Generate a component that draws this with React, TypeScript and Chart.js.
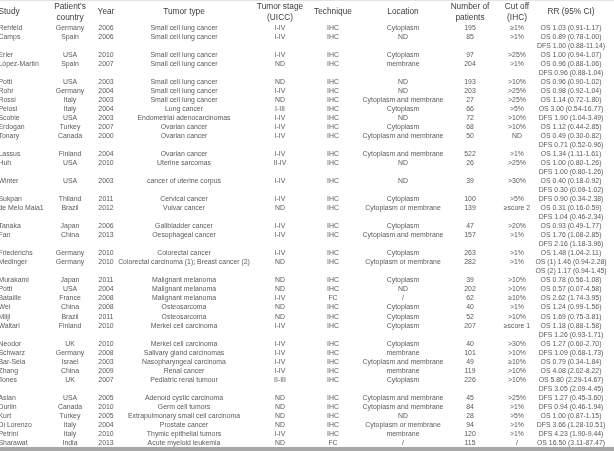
import React, { useEffect, useRef } from "react";
import { Chart, registerables } from "chart.js";

Chart.register(...registerables);

const headers: string[][] = [
  ["Study"],
  ["Patient's", "country"],
  ["Year"],
  ["Tumor type"],
  ["Tumor stage", "(UICC)"],
  ["Technique"],
  ["Location"],
  ["Number of", "patients"],
  ["Cut off", "(IHC)"],
  ["RR (95% CI)"],
];

const studies = ["Rehfeld", "Camps", "Erler", "López-Martin", "Potti", "Rohr", "Rossi", "Pelosi", "Scobie", "Erdogan", "Tonary", "Lassus", "Huh", "Winter", "Sukpan", "de Melo Maia1", "Tanaka", "Fan", "Friederichs", "Medinger", "Murakami", "Potti", "Bataille", "Wei", "Miiji", "Waltari", "Neodor", "Schwarz", "Bar-Sela", "Zhang", "Jones", "Aslan", "Durlin", "Kurt", "Di Lorenzo", "Petrini", "Sharawat"];

const countries = ["Germany", "Spain", "USA", "Spain", "USA", "Germany", "Italy", "Italy", "USA", "Turkey", "Canada", "Finland", "USA", "USA", "Thiland", "Brazil", "Japan", "China", "Germany", "Germany", "Japan", "USA", "France", "China", "Brazil", "Finland", "UK", "Germany", "Israel", "China", "UK", "USA", "Canada", "Turkey", "Italy", "Italy", "India"];

const years = ["2006", "2006", "2010", "2007", "2003", "2004", "2003", "2004", "2003", "2007", "2000", "2004", "2010", "2003", "2011", "2012", "2006", "2013", "2010", "2010", "2011", "2004", "2008", "2008", "2011", "2010", "2010", "2008", "2003", "2009", "2007", "2005", "2010", "2005", "2004", "2010", "2013"];

const tumorTypes = ["Small cell lung cancer", "Small cell lung cancer", "Small cell lung cancer", "Small cell lung cancer", "Small cell lung cancer", "Small cell lung cancer", "Small cell lung cancer", "Lung cancer", "Endometrial adenocarcinomas", "Ovarian cancer", "Ovarian cancer", "Ovarian cancer", "Uterine sarcomas", "cancer of uterine corpus", "Cervical cancer", "Vulvar cancer", "Gallbladder cancer", "Oesophageal cancer", "Colorectal cancer", "Colorectal carcinoma (1); Breast cancer (2)", "Malignant melanoma", "Malignant melanoma", "Malignant melanoma", "Osteosarcoma", "Osteosarcoma", "Merkel cell carcinoma", "Merkel cell carcinoma", "Salivary gland carcinomas", "Nasopharyngeal carcinoma", "Renal cancer", "Pediatric renal tumour", "Adenoid cystic carcinoma", "Germ cell tumors", "Extrapulmonary small cell carcinoma", "Prostate cancer", "Thymic epithelial tumors", "Acute myeloid leukemia"];

const stages = ["I-IV", "I-IV", "I-IV", "ND", "ND", "I-IV", "ND", "I-III", "I-IV", "I-IV", "I-IV", "I-IV", "II-IV", "I-IV", "I-IV", "ND", "I-IV", "I-IV", "I-IV", "ND", "ND", "ND", "I-IV", "ND", "ND", "I-IV", "I-IV", "I-IV", "I-IV", "I-IV", "II-III", "ND", "ND", "ND", "ND", "I-IV", "ND"];

const techniques = ["IHC", "IHC", "IHC", "IHC", "IHC", "IHC", "IHC", "IHC", "IHC", "IHC", "IHC", "IHC", "IHC", "IHC", "IHC", "IHC", "IHC", "IHC", "IHC", "IHC", "IHC", "IHC", "FC", "IHC", "IHC", "IHC", "IHC", "IHC", "IHC", "IHC", "IHC", "IHC", "IHC", "IHC", "IHC", "IHC", "FC"];

const locations = ["Cytoplasm", "ND", "Cytoplasm", "membrane", "ND", "ND", "Cytoplasm and membrane", "Cytoplasm", "ND", "Cytoplasm", "Cytoplasm and membrane", "Cytoplasm and membrane", "ND", "ND", "Cytoplasm", "Cytoplasm or membrane", "Cytoplasm", "Cytoplasm and membrane", "Cytoplasm", "Cytoplasm or membrane", "Cytoplasm", "ND", "/", "Cytoplasm", "Cytoplasm", "Cytoplasm", "Cytoplasm", "membrane", "Cytoplasm and membrane", "membrane", "Cytoplasm", "Cytoplasm and membrane", "Cytoplasm and membrane", "ND", "Cytoplasm or membrane", "membrane", "/"];

const patients = ["195", "85", "97", "204", "193", "203", "27", "66", "72", "68", "50", "522", "26", "39", "100", "139", "47", "157", "263", "282", "39", "202", "62", "40", "52", "207", "40", "101", "49", "119", "226", "45", "84", "28", "94", "120", "115"];

const cutoffs = ["≥1%", ">1%", ">25%", ">1%", ">10%", ">25%", ">25%", ">5%", ">10%", ">10%", "ND", ">1%", ">25%", ">30%", ">5%", "≥score 2", ">20%", ">1%", ">1%", ">1%", ">10%", ">10%", "≥10%", ">1%", ">10%", "≥score 1", ">30%", ">10%", "≥10%", ">10%", ">10%", ">25%", ">1%", ">5%", ">1%", ">1%", "/"];

const rrFirst = ["OS 1.03 (0.91-1.17)", "OS 0.89 (0.78-1.00)", "OS 1.00 (0.94-1.07)", "OS 0.96 (0.88-1.06)", "OS 0.96 (0.90-1.02)", "OS 0.98 (0.92-1.04)", "OS 1.14 (0.72-1.80)", "OS 3.00 (0.54-16.77)", "DFS 1.90 (1.04-3.49)", "OS 1.12 (0.44-2.85)", "OS 0.49 (0.30-0.82)", "OS 1.34 (1.11-1.61)", "OS 1.00 (0.80-1.26)", "OS 0.40 (0.18-0.92)", "DFS 0.90 (0.34-2.38)", "OS 0.31 (0.16-0.59)", "OS 0.93 (0.49-1.77)", "OS 1.76 (1.08-2.85)", "OS 1.48 (1.04-2.11)", "OS (1) 1.46 (0.94-2.28)", "OS 0.78 (0.56-1.08)", "OS 0.57 (0.07-4.58)", "OS 2.62 (1.74-3.95)", "OS 1.24 (0.99-1.56)", "OS 1.69 (0.75-3.81)", "OS 1.18 (0.88-1.58)", "OS 1.27 (0.60-2.70)", "DFS 1.09 (0.68-1.73)", "OS 0.79 (0.34-1.84)", "OS 4.08 (2.02-8.22)", "OS 5.80 (2.29-14.67)", "DFS 1.27 (0.45-3.60)", "DFS 0.94 (0.46-1.94)", "OS 1.00 (0.87-1.15)", "DFS 3.66 (1.28-10.51)", "DFS 4.23 (1.90-9.44)", "OS 16.50 (3.11-87.47)"];

const rrSecond = ["", "DFS 1.00 (0.88-11.14)", "", "DFS 0.96 (0.88-1.04)", "", "", "", "", "", "", "DFS 0.71 (0.52-0.96)", "", "DFS 1.00 (0.80-1.26)", "DFS 0.30 (0.09-1.02)", "", "DFS 1.04 (0.46-2.34)", "", "DFS 2.16 (1.18-3.96)", "", "OS (2) 1.17 (0.94-1.45)", "", "", "", "", "", "DFS 1.26 (0.93-1.71)", "", "", "", "", "DFS 3.05 (2.09-4.45)", "", "", "", "", "", ""];

// ---- layout (positions in scale units) ----
const W = 614;
const H = 451;
const colX = [-1.5, 70, 106, 184, 280, 333, 403, 470, 517, 571];
const colAlign: CanvasTextAlign[] = ["left", "center", "center", "center", "center", "center", "center", "center", "center", "center"];
const Y_MIN = -3.1;
const Y_MAX = 46.9;
const HEADER_TWO = [-2.33, -1.11];
const HEADER_ONE = -1.77;
const BOTTOM_RULE = [46.45, 46.9];
const TOP_RULE = [-3.1, -3.0];

const FONT_BODY = '6.9px "Liberation Sans", Arial, sans-serif';
const FONT_HEAD = '8.3px "Liberation Sans", Arial, sans-serif';

const tablePlugin = {
  id: "tableText",
  afterDatasetsDraw(chart: any) {
    const ctx: CanvasRenderingContext2D = chart.ctx;
    const xs = chart.scales.x;
    const ys = chart.scales.y;
    ctx.save();
    // rules
    ctx.fillStyle = "#e4e4e4";
    {
      const a = ys.getPixelForValue(TOP_RULE[0]);
      const b = ys.getPixelForValue(TOP_RULE[1]);
      ctx.fillRect(xs.getPixelForValue(0), Math.min(a, b), xs.getPixelForValue(W) - xs.getPixelForValue(0), Math.max(1, Math.abs(b - a)));
    }
    ctx.fillStyle = "#a8a8a8";
    {
      const a = ys.getPixelForValue(BOTTOM_RULE[0]);
      const b = ys.getPixelForValue(BOTTOM_RULE[1]);
      ctx.fillRect(xs.getPixelForValue(0), Math.min(a, b), xs.getPixelForValue(W) - xs.getPixelForValue(0), Math.abs(b - a));
    }
    ctx.textBaseline = "middle";
    // headers
    ctx.font = FONT_HEAD;
    ctx.fillStyle = "#3c3c3c";
    headers.forEach((h, c) => {
      ctx.textAlign = colAlign[c];
      const x = xs.getPixelForValue(colX[c]);
      if (h.length === 1) {
        ctx.fillText(h[0], x, ys.getPixelForValue(HEADER_ONE));
      } else {
        h.forEach((t, k) => ctx.fillText(t, x, ys.getPixelForValue(HEADER_TWO[k])));
      }
    });
    // body
    ctx.font = FONT_BODY;
    ctx.fillStyle = "#5a5a5a";
    let line = 0;
    studies.forEach((s, i) => {
      const cells = [s, countries[i], years[i], tumorTypes[i], stages[i], techniques[i], locations[i], patients[i], cutoffs[i], rrFirst[i]];
      const y = ys.getPixelForValue(line);
      cells.forEach((t, c) => {
        ctx.textAlign = colAlign[c];
        ctx.fillText(t, xs.getPixelForValue(colX[c]), y);
      });
      line += 1;
      if (rrSecond[i]) {
        ctx.textAlign = "center";
        ctx.fillText(rrSecond[i], xs.getPixelForValue(colX[9]), ys.getPixelForValue(line));
        line += 1;
      }
    });
    ctx.restore();
  },
};

export default function App() {
  const ref = useRef<HTMLCanvasElement | null>(null);
  useEffect(() => {
    if (!ref.current) return;
    const points: { x: number; y: number }[] = [];
    let line = 0;
    studies.forEach((_, i) => {
      points.push({ x: colX[0], y: line });
      line += rrSecond[i] ? 2 : 1;
    });
    const chart = new Chart(ref.current, {
      type: "scatter",
      data: {
        datasets: [
          {
            label: "rows",
            data: points,
            pointRadius: 0,
            pointHoverRadius: 0,
            showLine: false,
          },
        ],
      },
      options: {
        animation: false,
        responsive: false,
        devicePixelRatio: 1,
        events: [],
        layout: { padding: 0 },
        plugins: { legend: { display: false }, tooltip: { enabled: false }, title: { display: false } },
        scales: {
          x: { type: "linear", min: 0, max: W, display: false },
          y: { type: "linear", min: Y_MIN, max: Y_MAX, reverse: true, display: false },
        },
      },
      plugins: [tablePlugin],
    });
    return () => chart.destroy();
  }, []);
  return (
    <div style={{ position: "fixed", left: 0, top: 0, width: W, height: H, background: "#ffffff" }}>
      <canvas ref={ref} width={W} height={H} style={{ display: "block" }} />
    </div>
  );
}
